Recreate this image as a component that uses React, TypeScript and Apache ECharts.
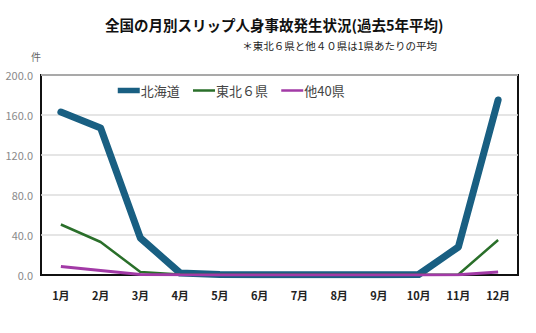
import React, { useEffect, useRef } from "react";
import * as echarts from "echarts";

const months = ["1月", "2月", "3月", "4月", "5月", "6月", "7月", "8月", "9月", "10月", "11月", "12月"];
const hokkaido = [163, 147, 37, 2, 0.5, 0.3, 0.3, 0.3, 0.3, 0.5, 28, 175];
const tohoku = [50.5, 33, 3, 0.5, 0.3, 0.3, 0.3, 0.3, 0.3, 0.3, 0.5, 35];
const others = [8.5, 4.5, 0.5, 0.2, 0.1, 0.1, 0.1, 0.1, 0.1, 0.1, 0.2, 3];
const seriesNames = ["北海道", "東北６県", "他40県"];

const FONT = '"Noto Sans CJK JP", "Noto Sans", sans-serif';

export default function App() {
  const ref = useRef<HTMLDivElement>(null);
  useEffect(() => {
    const chart = echarts.init(ref.current!, null, { renderer: "svg" });
    chart.setOption({
      animation: false,
      backgroundColor: "#ffffff",
      textStyle: { fontFamily: FONT },
      grid: {
        left: 41, right: 18, top: 75, bottom: 58,
        show: true, borderColor: "#111", borderWidth: 2, backgroundColor: "transparent",
      },
      legend: {
        left: 110, top: 79, itemWidth: 22, itemHeight: 14, itemGap: 12,
        itemStyle: { opacity: 0 },
        textStyle: { fontFamily: FONT, fontSize: 13, color: "#444", padding: [0, 0, 0, -4] },
        data: [
          { name: seriesNames[0], lineStyle: { width: 5.5, cap: "butt" } },
          { name: seriesNames[1], lineStyle: { width: 2.5 } },
          { name: seriesNames[2], lineStyle: { width: 2.5 } },
        ],
      },
      graphic: [
        {
          type: "text", left: 105, top: 17,
          style: { text: "全国の月別スリップ人身事故発生状況(過去5年平均)", fontFamily: FONT, fontSize: 14.5, fontWeight: "bold", fill: "#111" },
        },
        {
          type: "text", right: 99, top: 40,
          style: { text: "＊東北６県と他４０県は1県あたりの平均", fontFamily: FONT, fontSize: 10.5, fill: "#222" },
        },
        {
          type: "text", left: 31, top: 51,
          style: { text: "件", fontFamily: FONT, fontSize: 10, fill: "#666" },
        },
      ],
      xAxis: {
        type: "category", data: months, boundaryGap: true,
        axisLine: { lineStyle: { color: "#111", width: 2 } },
        axisTick: { show: false },
        axisLabel: { fontFamily: FONT, fontSize: 11, fontWeight: "bold", color: "#222", margin: 14 },
      },
      yAxis: {
        type: "value", min: 0, max: 200, interval: 40,
        axisLine: { show: false },
        axisTick: { show: false },
        axisLabel: { formatter: (v: number) => v.toFixed(1), fontFamily: FONT, fontSize: 11, color: "#8a8a8a", margin: 8 },
        splitLine: { lineStyle: { color: "#dcdcdc", width: 1.5 } },
      },
      series: [
        {
          name: seriesNames[0], type: "line", data: hokkaido, symbol: "none", z: 2,
          lineStyle: { color: "#195f82", width: 7, cap: "round", join: "round" }, itemStyle: { color: "#195f82" },
        },
        {
          name: seriesNames[1], type: "line", data: tohoku, symbol: "none", z: 3,
          lineStyle: { color: "#2a6f2a", width: 2.5 }, itemStyle: { color: "#2a6f2a" },
        },
        {
          name: seriesNames[2], type: "line", data: others, symbol: "none", z: 4,
          lineStyle: { color: "#a23aa6", width: 3 }, itemStyle: { color: "#a23aa6" },
        },
      ],
    });
    return () => chart.dispose();
  }, []);
  return <div ref={ref} style={{ width: 536, height: 333, position: "absolute", left: 0, top: 0 }} />;
}
